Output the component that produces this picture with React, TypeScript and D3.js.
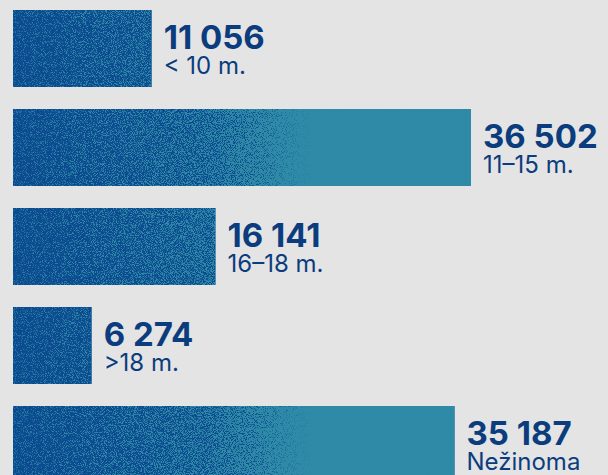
import React from 'react';
import * as d3 from 'd3';

const categories = ['< 10 m.', '11–15 m.', '16–18 m.', '>18 m.', 'Nežinoma'];
const values = [11056, 36502, 16141, 6274, 35187];

const WIDTH = 608;
const HEIGHT = 475;

const formatValue = (v: number) => d3.format(',')(v).replace(/,/g, ' ');

export default function App() {
  // scales
  const xScale = d3.scaleLinear().domain([0, d3.max(values) as number]).range([13, 471]);
  const yScale = d3
    .scaleBand<string>()
    .domain(categories)
    .range([10, 483])
    .paddingInner(22 / 99)
    .paddingOuter(0);

  const dark = '#0c4b8f';
  const teal = '#308ea9';
  const textColor = '#0b3d7e';

  return (
    <svg
      width={WIDTH}
      height={HEIGHT}
      style={{ position: 'absolute', left: 0, top: 0, display: 'block' }}
      fontFamily="Inter, 'Noto Sans', sans-serif"
    >
      <defs>
        <linearGradient id="fade" gradientUnits="userSpaceOnUse" x1={13} y1={0} x2={315} y2={0}>
          <stop offset="0" stopColor="rgb(60,60,60)" />
          <stop offset="0.64" stopColor="rgb(128,128,128)" />
          <stop offset="1" stopColor="rgb(255,255,255)" />
        </linearGradient>
        <filter
          id="grain"
          filterUnits="userSpaceOnUse"
          x={0}
          y={0}
          width={WIDTH}
          height={HEIGHT}
          colorInterpolationFilters="sRGB"
        >
          <feTurbulence type="fractalNoise" baseFrequency="1.1" numOctaves={2} seed={7} result="noise" />
          <feColorMatrix
            in="noise"
            type="matrix"
            values="1 0 0 0 0  1 0 0 0 0  1 0 0 0 0  0 0 0 0 1"
            result="gray"
          />
          <feComponentTransfer in="gray" result="stretched">
            <feFuncR type="linear" slope="3.5" intercept="-1.25" />
            <feFuncG type="linear" slope="3.5" intercept="-1.25" />
            <feFuncB type="linear" slope="3.5" intercept="-1.25" />
          </feComponentTransfer>
          <feComposite
            in="SourceGraphic"
            in2="stretched"
            operator="arithmetic"
            k1="0"
            k2="1.5"
            k3="1"
            k4="-0.75"
            result="sum"
          />
          <feComponentTransfer in="sum">
            <feFuncR type="linear" slope="2.2" intercept="-0.65" />
            <feFuncG type="linear" slope="2.2" intercept="-0.65" />
            <feFuncB type="linear" slope="2.2" intercept="-0.65" />
            <feFuncA type="linear" slope="0" intercept="1" />
          </feComponentTransfer>
        </filter>
        <mask id="grainMask" maskUnits="userSpaceOnUse" x={0} y={0} width={WIDTH} height={HEIGHT}>
          <rect x={0} y={0} width={WIDTH} height={HEIGHT} fill="url(#fade)" filter="url(#grain)" />
        </mask>
      </defs>

      <rect x={0} y={0} width={WIDTH} height={HEIGHT} fill="#e4e4e4" />

      {/* bars: dark base */}
      {categories.map((c, i) => (
        <rect
          key={'d' + c}
          x={xScale(0)}
          y={yScale(c)}
          width={xScale(values[i]) - xScale(0)}
          height={yScale.bandwidth()}
          fill={dark}
        />
      ))}

      {/* teal grain on top */}
      <g mask="url(#grainMask)" opacity={0.95}>
        {categories.map((c, i) => (
          <rect
            key={'t' + c}
            x={xScale(0)}
            y={yScale(c)}
            width={xScale(values[i]) - xScale(0)}
            height={yScale.bandwidth()}
            fill={teal}
          />
        ))}
      </g>

      {/* labels */}
      {categories.map((c, i) => {
        const x = xScale(values[i]) + 12;
        const y0 = yScale(c) as number;
        return (
          <g key={'l' + c} fill={textColor}>
            <text x={x} y={y0 + 39} fontSize={33} fontWeight={700}>
              {formatValue(values[i])}
            </text>
            <text x={x} y={y0 + 64} fontSize={24} fontWeight={400}>
              {c}
            </text>
          </g>
        );
      })}
    </svg>
  );
}
